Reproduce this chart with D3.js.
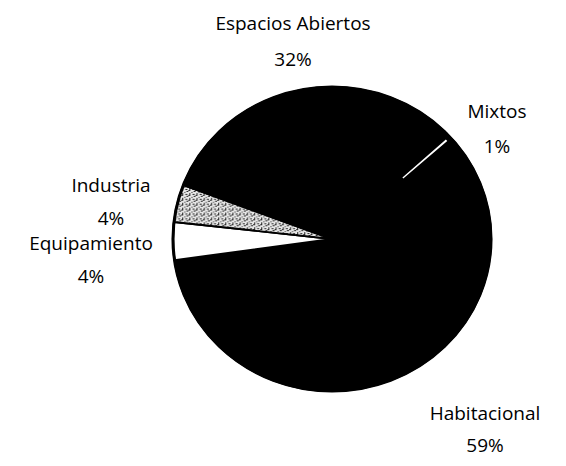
<!DOCTYPE html>
<html>
<head>
<meta charset="utf-8">
<script src="https://cdn.jsdelivr.net/npm/d3@7"></script>
<style>
  body { margin: 0; background: #fff; }
  svg text { font-family: "Open Sans", "DejaVu Sans", sans-serif; fill: #000; }
</style>
</head>
<body>
<div id="chart"></div>
<script>
// uso de suelo (%), clockwise from upper right
const categories = ["Mixtos", "Habitacional", "Equipamiento", "Industria", "Espacios Abiertos"]
const values = [1, 59, 4, 4, 32]
const labels = ["1%", "59%", "4%", "4%", "32%"]

const width = 566, height = 466
const cx = 332, cy = 239
const R = 155
const sx = 159 / R, sy = 152 / R   // scan is a bit squashed

// label anchors (name baseline, pct baseline)
const labelPos = {
    "Espacios Abiertos": { x: 293, y: 30, y2: 66 },
    "Mixtos": { x: 497, y: 118, y2: 153 },
    "Industria": { x: 111, y: 192, y2: 225 },
    "Equipamiento": { x: 91, y: 250, y2: 283 },
    "Habitacional": { x: 485, y: 420, y2: 452 }
}

const fills = {
    "Mixtos": "#000",
    "Habitacional": "#000",
    "Equipamiento": "#fff",
    "Industria": "url(#speckle)",
    "Espacios Abiertos": "#000"
}

const svg = d3.select("#chart").append("svg")
    .attr("width", width)
    .attr("height", height)

// speckled grey for Industria
const defs = svg.append("defs")
const pat = defs.append("pattern")
    .attr("id", "speckle")
    .attr("width", 7).attr("height", 5)
    .attr("patternUnits", "userSpaceOnUse")
pat.append("rect").attr("width", 7).attr("height", 5).attr("fill", "#e8e8e8")
const dots = [[0, 0, 2, 1], [3, 2, 1, 1], [5, 1, 2, 1], [1, 3, 1, 2], [4, 4, 2, 1]]
dots.forEach(d => pat.append("rect")
    .attr("x", d[0]).attr("y", d[1]).attr("width", d[2]).attr("height", d[3])
    .attr("fill", "#222"))

const data = categories.map((c, i) => ({ name: c, value: values[i], label: labels[i] }))

const pie = d3.pie()
    .sort(null)
    .value(d => d.value)
    .startAngle(46 * Math.PI / 180)
    .endAngle(406 * Math.PI / 180)

const arc = d3.arc().innerRadius(0).outerRadius(R)

const g = svg.append("g")
    .attr("transform", "translate(" + cx + "," + cy + ") scale(" + sx + "," + sy + ")")

const arcs = pie(data)

g.selectAll("path.slice")
    .data(arcs)
    .enter().append("path")
    .attr("class", "slice")
    .attr("d", arc)
    .attr("fill", d => fills[d.data.name])
    .attr("stroke", "#000")
    .attr("stroke-width", 2)
    .attr("stroke-linejoin", "round")

// the Mixtos sliver only shows as a thin white streak in the print
const mix = arcs.find(d => d.data.name === "Mixtos")
const mid = (mix.startAngle + mix.endAngle) / 2
g.append("path")
    .attr("d", d3.arc()
        .innerRadius(R * 0.6)
        .outerRadius(R * 0.97)({ startAngle: mid - 0.004, endAngle: mid + 0.01 }))
    .attr("fill", "#fff")

// outer rim
g.append("circle")
    .attr("r", R)
    .attr("fill", "none")
    .attr("stroke", "#000")
    .attr("stroke-width", 3)

// labels
const lab = svg.append("g")
    .selectAll("g")
    .data(data)
    .enter().append("g")
    .attr("text-anchor", "middle")
    .style("font-size", "19px")

lab.append("text")
    .attr("x", d => labelPos[d.name].x)
    .attr("y", d => labelPos[d.name].y)
    .text(d => d.name)

lab.append("text")
    .attr("x", d => labelPos[d.name].x)
    .attr("y", d => labelPos[d.name].y2)
    .text(d => d.label)
</script>
</body>
</html>
